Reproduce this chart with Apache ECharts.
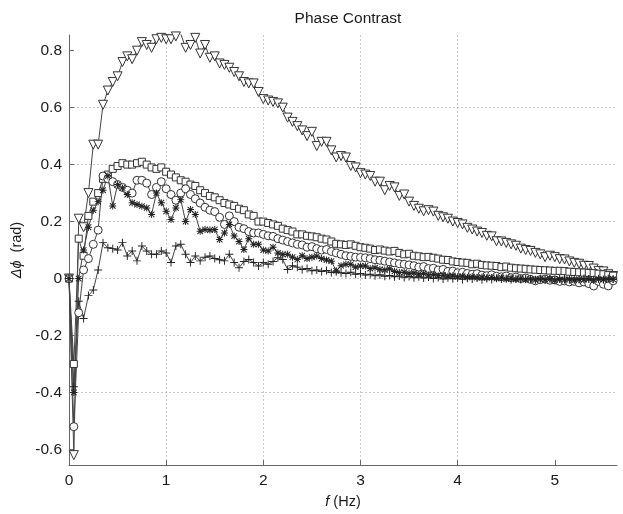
<!DOCTYPE html>
<html>
<head>
<meta charset="utf-8">
<title>Phase Contrast</title>
<script src="https://cdn.jsdelivr.net/npm/echarts@6/dist/echarts.min.js"></script>
<style>
    html, body { margin: 0; padding: 0; background: #fff; }
    #chart { width: 623px; height: 514px; }
</style>
</head>
<body>
<div id="chart"></div>
<script>
    // frequency grid step (Hz), values below are sampled on it
    var DF = 0.05;

    var triData = [
        0, -0.62, 0.21, 0.18, 0.30, 0.47, 0.47, 0.61, 0.66, 0.69,
        0.71, 0.76, 0.78, 0.77, 0.80, 0.83, 0.82, 0.81, 0.84, 0.845,
        0.84, 0.84, 0.85, 0.86, 0.81, 0.82, 0.845, 0.79, 0.82, 0.775,
        0.78, 0.755, 0.75, 0.74, 0.725, 0.71, 0.69, 0.685, 0.685, 0.655,
        0.63, 0.625, 0.62, 0.615, 0.60, 0.565, 0.55, 0.535, 0.52, 0.50,
        0.515, 0.465, 0.48, 0.48, 0.45, 0.425, 0.43, 0.425, 0.395, 0.39,
        0.37, 0.365, 0.36, 0.34, 0.34, 0.31, 0.325, 0.32, 0.29, 0.295,
        0.27, 0.255, 0.245, 0.236, 0.24, 0.235, 0.22, 0.215, 0.21, 0.20,
        0.195, 0.19, 0.178, 0.172, 0.165, 0.16, 0.15, 0.148, 0.131, 0.13,
        0.125, 0.12, 0.115, 0.105, 0.10, 0.097, 0.09, 0.085, 0.075, 0.08,
        0.075, 0.068, 0.067, 0.06, 0.055, 0.052, 0.045, 0.044, 0.035, 0.027,
        0.025, 0.015, 0.009
    ];

    var sqData = [
        0, -0.30, 0.14, 0.08, 0.22, 0.27, 0.30, 0.35, 0.365, 0.385,
        0.395, 0.405, 0.40, 0.40, 0.405, 0.41, 0.40, 0.39, 0.385, 0.39,
        0.375, 0.365, 0.355, 0.345, 0.34, 0.33, 0.325, 0.31, 0.30, 0.29,
        0.285, 0.275, 0.265, 0.26, 0.255, 0.245, 0.24, 0.225, 0.22, 0.20,
        0.20, 0.195, 0.19, 0.185, 0.175, 0.17, 0.165, 0.155, 0.155, 0.15,
        0.148, 0.145, 0.14, 0.137, 0.13, 0.122, 0.12, 0.118, 0.12, 0.115,
        0.11, 0.108, 0.105, 0.10, 0.102, 0.098, 0.095, 0.097, 0.09, 0.085,
        0.087, 0.08, 0.078, 0.075, 0.076, 0.073, 0.07, 0.066, 0.065, 0.06,
        0.058, 0.056, 0.055, 0.05, 0.052, 0.048, 0.046, 0.045, 0.044, 0.04,
        0.042, 0.038, 0.036, 0.035, 0.034, 0.032, 0.031, 0.03, 0.029, 0.028,
        0.027, 0.027, 0.026, 0.024, 0.023, 0.022, 0.021, 0.02, 0.019, 0.017,
        0.015, 0.012, 0.01
    ];

    var ciData = [
        0, -0.52, -0.12, 0.03, 0.07, 0.12, 0.17, 0.36, 0.35, 0.34,
        0.33, 0.32, 0.31, 0.30, 0.345, 0.345, 0.335, 0.295, 0.32, 0.34,
        0.315, 0.295, 0.275, 0.30, 0.315, 0.295, 0.28, 0.265, 0.25, 0.24,
        0.235, 0.215, 0.19, 0.22, 0.20, 0.18, 0.175, 0.165, 0.16, 0.16,
        0.155, 0.15, 0.148, 0.14, 0.135, 0.13, 0.125, 0.12, 0.118, 0.11,
        0.112, 0.105, 0.10, 0.102, 0.095, 0.09, 0.085, 0.08, 0.078, 0.075,
        0.074, 0.073, 0.07, 0.066, 0.064, 0.061, 0.058, 0.055, 0.052, 0.05,
        0.048, 0.045, 0.04, 0.042, 0.035, 0.036, 0.03, 0.032, 0.025, 0.026,
        0.02, 0.022, 0.018, 0.015, 0.017, 0.012, 0.01, 0.013, 0.008, 0.006,
        0.009, 0.003, 0.005, 0.0, 0.002, -0.003, -0.008, -0.004, -0.002, -0.006,
        -0.005, -0.01, -0.008, -0.012, -0.01, -0.015, -0.012, -0.018, -0.026, -0.01,
        -0.02, -0.026, -0.008
    ];

    var starData = [
        0, -0.40, 0.0, 0.10, 0.18, 0.24, 0.27, 0.31, 0.36, 0.255,
        0.33, 0.318, 0.295, 0.266, 0.26, 0.254, 0.248, 0.225, 0.30, 0.266,
        0.236, 0.207, 0.248, 0.277, 0.20, 0.242, 0.225, 0.166, 0.172, 0.17,
        0.172, 0.137, 0.16, 0.19, 0.149, 0.13, 0.102, 0.14, 0.12, 0.12,
        0.10, 0.097, 0.11, 0.09, 0.085, 0.085, 0.075, 0.067, 0.08, 0.07,
        0.075, 0.079, 0.07, 0.065, 0.061, 0.027, 0.045, 0.05, 0.05, 0.04,
        0.044, 0.044, 0.035, 0.038, 0.032, 0.03, 0.034, 0.025, 0.021, 0.022,
        0.018, 0.02, 0.015, 0.018, 0.012, 0.014, 0.01, 0.012, 0.008, 0.01,
        0.006, 0.008, 0.004, 0.007, 0.003, 0.005, 0.002, 0.004, 0.0, 0.003,
        -0.002, 0.001, -0.003, 0.0, -0.004, -0.001, -0.005, -0.002, -0.004, -0.001,
        -0.006, -0.003, -0.005, -0.002, -0.006, -0.003, -0.004, -0.001, -0.005, -0.002,
        -0.004, -0.001, -0.003
    ];

    var plusData = [
        0, -0.38, -0.08, -0.14, -0.06, -0.04, 0.03, 0.126, 0.108, 0.105,
        0.10, 0.126, 0.079, 0.097, 0.062, 0.114, 0.097, 0.085, 0.085, 0.097,
        0.09, 0.056, 0.114, 0.12, 0.085, 0.056, 0.079, 0.062, 0.075, 0.079,
        0.07, 0.066, 0.062, 0.085, 0.056, 0.038, 0.06, 0.067, 0.056, 0.044,
        0.056, 0.05, 0.06, 0.073, 0.067, 0.032, 0.045, 0.04, 0.032, 0.035,
        0.027, 0.03, 0.025, 0.028, 0.021, 0.024, 0.02, 0.018, 0.022, 0.015,
        0.018, 0.012, 0.015, 0.01, 0.013, 0.008, 0.011, 0.006, 0.009, 0.004,
        0.007, 0.003, 0.006, 0.002, 0.005, 0.0, 0.004, -0.002, 0.003, -0.001,
        0.002, -0.003, 0.001, -0.002, 0.002, -0.004, 0.0, -0.003, 0.001, -0.002,
        0.0, -0.004, -0.001, -0.003, 0.0, -0.002, -0.004, 0.0, -0.003, -0.001,
        -0.004, 0.0, -0.002, -0.004, -0.001, -0.003, 0.0, -0.002, -0.004, -0.001,
        -0.003, 0.0, -0.002
    ];

    var xTicks = [0, 1, 2, 3, 4, 5];
    var yTicks = [-0.6, -0.4, -0.2, 0, 0.2, 0.4, 0.6, 0.8];

    var asteriskPath = 'path://M4.3 0H5.7V10H4.3Z M0 4.3H10V5.7H0Z M0.5 1.5L1.5 0.5L9.5 8.5L8.5 9.5Z M8.5 0.5L9.5 1.5L1.5 9.5L0.5 8.5Z';
    var plusPath = 'path://M4.4 0H5.6V10H4.4Z M0 4.4H10V5.6H0Z';

    var FONT = 'Liberation Sans, Arial, sans-serif';

    function pairs(values) {
        return values.map(function(v, i) {
            return [+(i * DF).toFixed(2), v];
        });
    }

    function makeSeries(name, values, symbol, size, filled, rotate) {
        return {
            name: name,
            type: 'line',
            data: pairs(values),
            symbol: symbol,
            symbolSize: size,
            symbolRotate: rotate || 0,
            showAllSymbol: true,
            lineStyle: { color: '#444', width: 1 },
            itemStyle: filled ? { color: '#222', borderWidth: 0 }
                              : { color: '#fff', borderColor: '#333', borderWidth: 1 },
            emphasis: { disabled: true },
            z: 2
        };
    }

    var chart = echarts.init(document.getElementById('chart'), null, { renderer: 'canvas' });

    var option = {
        animation: false,
        backgroundColor: '#fff',
        title: {
            text: 'Phase Contrast',
            left: 343,
            textAlign: 'center',
            top: 6,
            textStyle: { fontFamily: FONT, fontSize: 15.5, fontWeight: 'normal', color: '#1a1a1a' }
        },
        grid: { left: 69, right: 6, top: 35, bottom: 47, containLabel: false },
        xAxis: {
            type: 'value',
            min: 0,
            max: 5.64,
            name: '{i|f} (Hz)',
            nameLocation: 'middle',
            nameGap: 26,
            nameTextStyle: {
                fontFamily: FONT, fontSize: 14.5, color: '#1a1a1a',
                rich: { i: { fontStyle: 'italic', fontFamily: FONT, fontSize: 14.5, color: '#1a1a1a' } }
            },
            axisLine: { show: true, onZero: false, lineStyle: { color: '#666', width: 1 } },
            axisTick: { show: true, inside: true, length: 5, customValues: xTicks, lineStyle: { color: '#666' } },
            axisLabel: {
                customValues: xTicks, margin: 8,
                fontFamily: FONT, fontSize: 15.5, color: '#1a1a1a'
            },
            splitLine: {
                show: true, showMinLine: false, showMaxLine: false,
                lineStyle: { color: '#c8c8c8', type: [2, 2], width: 1 }
            }
        },
        yAxis: {
            type: 'value',
            min: -0.655,
            max: 0.855,
            name: '{i|Δϕ}  (rad)',
            nameLocation: 'middle',
            nameGap: 37,
            nameRotate: 90,
            nameTextStyle: {
                fontFamily: FONT, fontSize: 14.5, color: '#1a1a1a',
                rich: { i: { fontStyle: 'italic', fontFamily: FONT, fontSize: 14.5, color: '#1a1a1a' } }
            },
            axisLine: { show: true, onZero: false, lineStyle: { color: '#666', width: 1 } },
            axisTick: { show: true, inside: true, length: 5, customValues: yTicks, lineStyle: { color: '#666' } },
            axisLabel: {
                customValues: yTicks, margin: 7,
                fontFamily: FONT, fontSize: 15.5, color: '#1a1a1a',
                formatter: function(v) { return String(+v.toFixed(1)); }
            },
            splitLine: {
                show: true, showMinLine: false, showMaxLine: false,
                lineStyle: { color: '#c8c8c8', type: [2, 2], width: 1 }
            }
        },
        series: [
            makeSeries('tri', triData, 'triangle', 9, false, 180),
            makeSeries('sq', sqData, 'rect', 7, false),
            makeSeries('ci', ciData, 'circle', 8, false),
            makeSeries('star', starData, asteriskPath, 7, true),
            makeSeries('plus', plusData, plusPath, 8, true)
        ]
    };

    chart.setOption(option);
</script>
</body>
</html>
